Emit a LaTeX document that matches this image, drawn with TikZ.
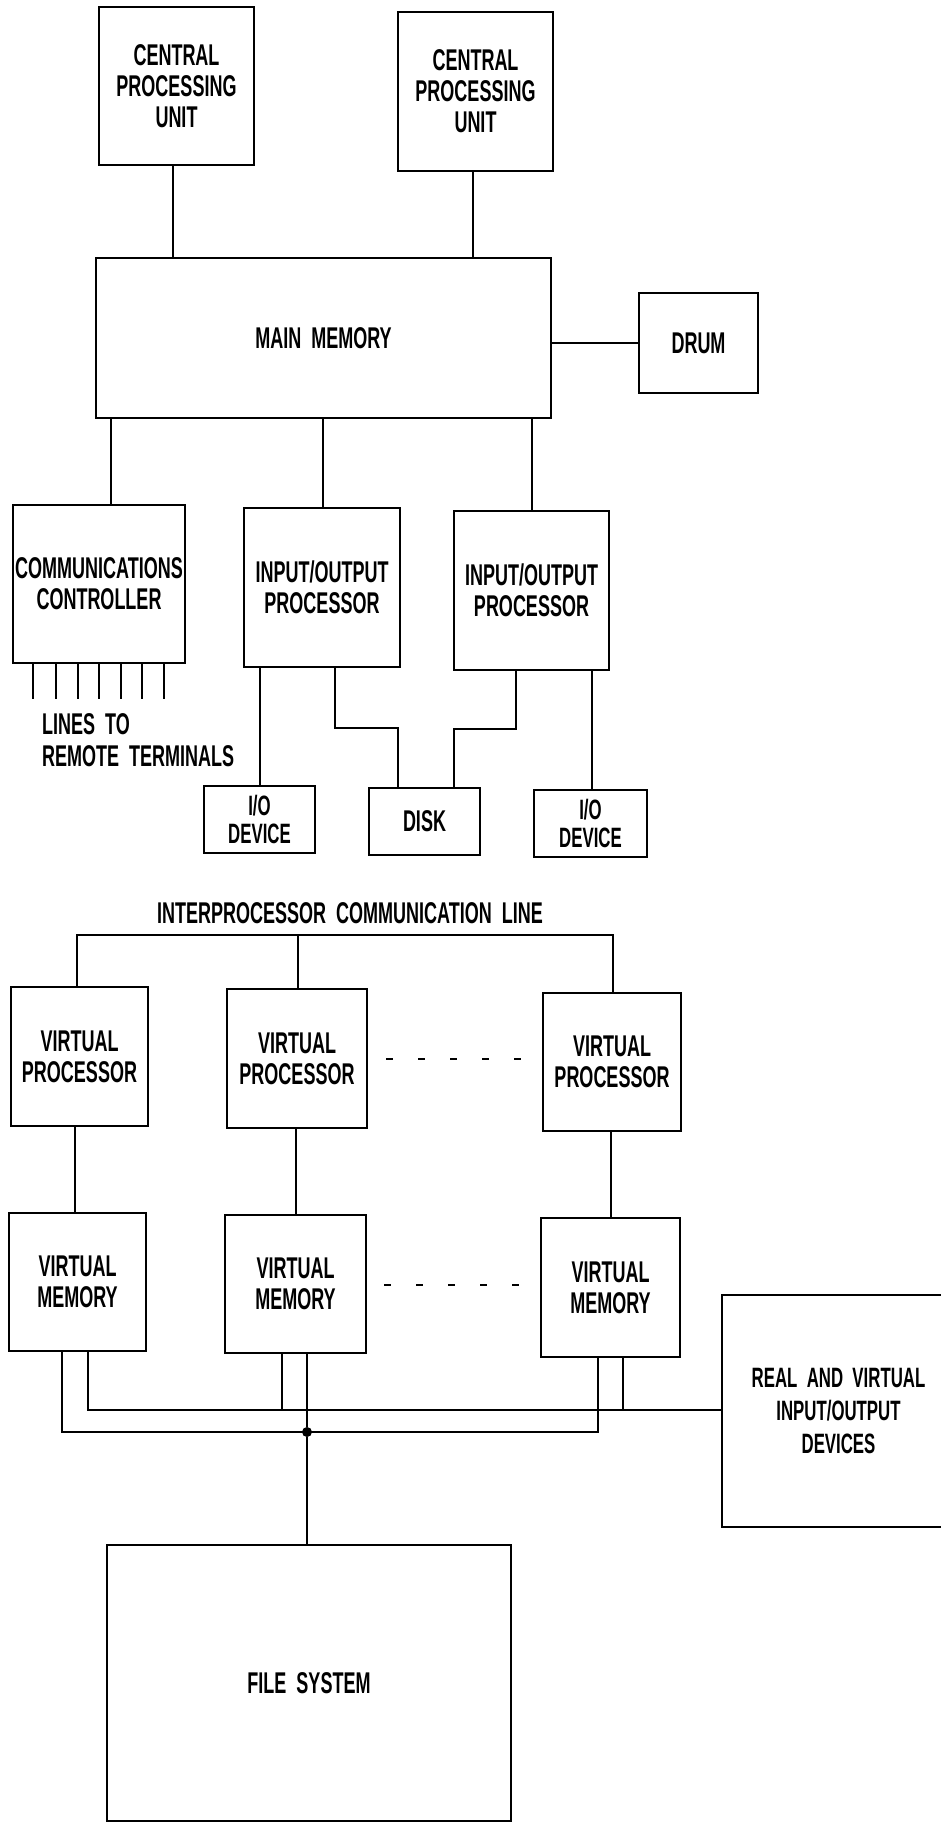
\documentclass[tikz,border=0pt]{standalone}
\usepackage{fontspec}
\setmainfont{Liberation Sans}[FakeStretch=0.6]
\newcommand\labfont{\bfseries\fontsize{30}{31}\selectfont}
\begin{document}
\begin{tikzpicture}[x=1pt,y=-1pt,
  box/.style={draw, line width=2pt, inner sep=0pt, align=center, font=\labfont},
  conn/.style={line width=1.6pt},
  txt/.style={inner sep=0pt, font=\labfont},
  junc/.style={circle, fill=black, inner sep=0pt, minimum size=10pt},
  dotline/.style={line width=2pt, dash pattern=on 7pt off 25pt}]
\fill[white] (0,0) rectangle (941,1824);
\useasboundingbox (0,0) rectangle (941,1824);
% upper machine
\node[box, minimum width=155pt, minimum height=158pt] (cpu1) at (176.5,86) {CENTRAL\\PROCESSING\\UNIT};
\node[box, minimum width=155pt, minimum height=159pt] (cpu2) at (475.5,91.5) {CENTRAL\\PROCESSING\\UNIT};
\node[box, minimum width=455pt, minimum height=160pt] (mm) at (323.5,338) {MAIN\ \ MEMORY};
\node[box, minimum width=119pt, minimum height=100pt] (drum) at (698.5,343) {DRUM};
\node[box, minimum width=172pt, minimum height=158pt] (comm) at (99,584) {COMMUNICATIONS\\CONTROLLER};
\node[box, minimum width=156pt, minimum height=159pt] (iop1) at (322,587.5) {INPUT/OUTPUT\\PROCESSOR};
\node[box, minimum width=155pt, minimum height=159pt] (iop2) at (531.5,590.5) {INPUT/OUTPUT\\PROCESSOR};
\node[box, minimum width=111pt, minimum height=67pt, font=\bfseries\fontsize{28}{28}\selectfont] (io1) at (259.5,819.5) {I/O\\DEVICE};
\node[box, minimum width=111pt, minimum height=67pt] (disk) at (424.5,821.5) {DISK};
\node[box, minimum width=113pt, minimum height=67pt, font=\bfseries\fontsize{28}{28}\selectfont] (io2) at (590.5,823.5) {I/O\\DEVICE};
\node[txt, align=left, anchor=west, font=\bfseries\fontsize{30}{32}\selectfont] (lines) at (42,740) {LINES\ \ TO\\REMOTE\ \ TERMINALS};
\draw[conn] (173,0 |- cpu1.south) -- (173,0 |- mm.north);
\draw[conn] (473,0 |- cpu2.south) -- (473,0 |- mm.north);
\draw[conn] (mm.east |- drum.west) -- (drum.west);
\draw[conn] (111,0 |- mm.south) -- (111,0 |- comm.north);
\draw[conn] (323,0 |- mm.south) -- (323,0 |- iop1.north);
\draw[conn] (532,0 |- mm.south) -- (532,0 |- iop2.north);
\foreach \t in {33,56,78,99,121,142,164}
  \draw[conn] (\t,0 |- comm.south) -- ++(0,35);
\draw[conn] (260,0 |- iop1.south) -- (260,0 |- io1.north);
\draw[conn] (335,0 |- iop1.south) -- (335,728) -- (398,728) -- (398,0 |- disk.north);
\draw[conn] (516,0 |- iop2.south) -- (516,729) -- (454,729) -- (454,0 |- disk.north);
\draw[conn] (592,0 |- iop2.south) -- (592,0 |- io2.north);
% virtual machine
\node[txt] (ipc) at (350,913) {INTERPROCESSOR\ \ COMMUNICATION\ \ LINE};
\node[box, minimum width=137pt, minimum height=139pt] (vp1) at (79.5,1056.5) {VIRTUAL\\PROCESSOR};
\node[box, minimum width=140pt, minimum height=139pt] (vp2) at (297,1058.5) {VIRTUAL\\PROCESSOR};
\node[box, minimum width=138pt, minimum height=138pt] (vp3) at (612,1062) {VIRTUAL\\PROCESSOR};
\node[box, minimum width=137pt, minimum height=138pt] (vm1) at (77.5,1282) {VIRTUAL\\MEMORY};
\node[box, minimum width=141pt, minimum height=138pt] (vm2) at (295.5,1284) {VIRTUAL\\MEMORY};
\node[box, minimum width=139pt, minimum height=139pt] (vm3) at (610.5,1287.5) {VIRTUAL\\MEMORY};
\node[box, minimum width=233pt, minimum height=232pt, font=\bfseries\fontsize{28}{33}\selectfont] (rvio) at (838.5,1411) {REAL\ \ AND\ \ VIRTUAL\\INPUT/OUTPUT\\DEVICES};
\node[box, minimum width=404pt, minimum height=276pt] (fs) at (309,1683) {FILE\ \ SYSTEM};
\draw[conn] (77,0 |- vp1.north) -- (77,935) -- (613,935) -- (613,0 |- vp3.north);
\draw[conn] (298,935) -- (298,0 |- vp2.north);
\draw[dotline] (386,1059) -- (530,1059);
\draw[dotline] (384,1285) -- (528,1285);
\draw[conn] (75,0 |- vp1.south) -- (75,0 |- vm1.north);
\draw[conn] (296,0 |- vp2.south) -- (296,0 |- vm2.north);
\draw[conn] (611,0 |- vp3.south) -- (611,0 |- vm3.north);
\draw[conn] (88,0 |- vm1.south) -- (88,1410) -- (rvio.west |- 0,1410);
\draw[conn] (282,0 |- vm2.south) -- (282,1410);
\draw[conn] (623,0 |- vm3.south) -- (623,1410);
\draw[conn] (62,0 |- vm1.south) -- (62,1432) -- (598,1432) -- (598,0 |- vm3.south);
\node[junc] (j) at (307,1432) {};
\draw[conn] (307,0 |- vm2.south) -- (j) -- (307,0 |- fs.north);
\end{tikzpicture}
\end{document}
